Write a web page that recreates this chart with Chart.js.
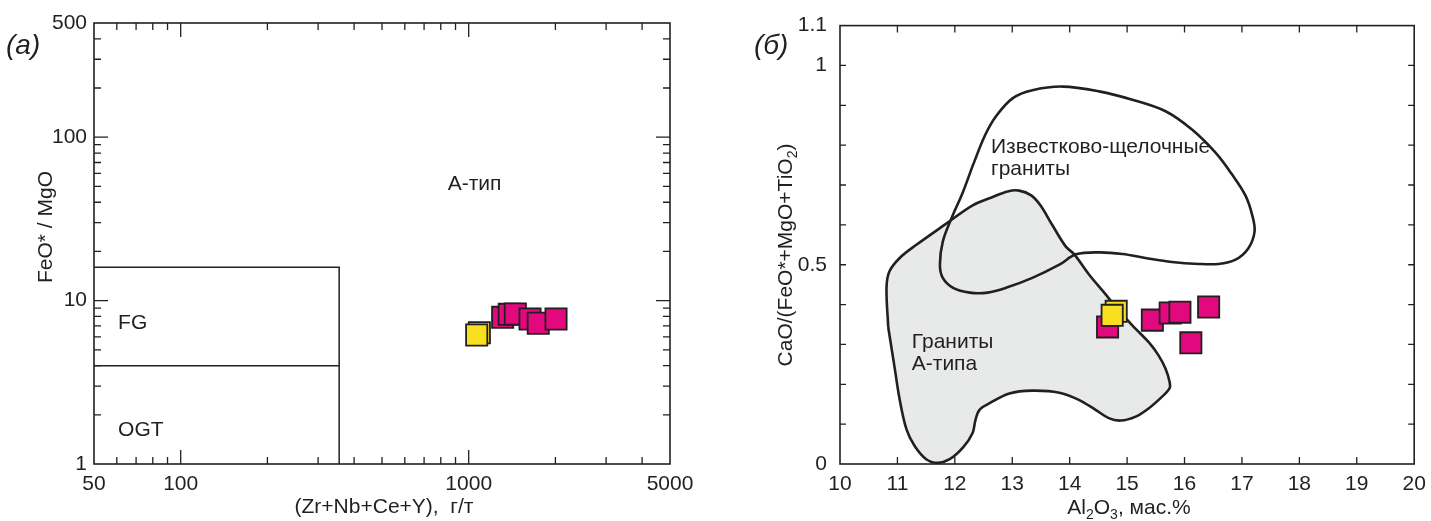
<!DOCTYPE html>
<html>
<head>
<meta charset="utf-8">
<script src="https://cdn.jsdelivr.net/npm/chart.js@4.4.1/dist/chart.umd.min.js"></script>
<style>
  body { margin: 0; background: #fff; width: 1431px; height: 521px; overflow: hidden; position: relative; }
  canvas { position: absolute; top: 0; }
  #left { left: 0; }
  #right { left: 715px; }
</style>
</head>
<body>
<canvas id="left" width="715" height="521"></canvas>
<canvas id="right" width="716" height="521"></canvas>
<script>
// ---------- panel (а): FeO*/MgO vs (Zr+Nb+Ce+Y)
const sumYellowX = [1089, 1066];
const sumYellowY = [6.36, 6.16];
const sumMagentaX = [1312, 1383, 1452, 1633, 1744, 2010];
const sumMagentaY = [7.90, 8.24, 8.28, 7.72, 7.26, 7.72];

const boxOuterX = [50, 355, 355];
const boxOuterY = [16, 16, 1];
const boxSplitX = [50, 355];
const boxSplitY = [4, 4];

const sumTickLabels = [50, 100, 1000, 5000];
const sumTickMajor = [100, 1000];
const sumTickMinor = [60, 70, 80, 90, 200, 300, 400, 500, 600, 700, 800, 900, 2000, 3000, 4000];
const ratioTickLabels = [1, 10, 100, 500];
const ratioTickMajor = [10, 100];
const ratioTickMinor = [2, 3, 4, 5, 6, 7, 8, 9, 20, 30, 40, 50, 60, 70, 80, 90, 200, 300, 400];

// ---------- panel (б): CaO/(FeO*+MgO+TiO2) vs Al2O3
const alYellowX = [14.81, 14.74];
const alYellowY = [0.383, 0.373];
const alMagentaX = [14.66, 15.44, 15.75, 15.92, 16.42, 16.11];
const alMagentaY = [0.344, 0.361, 0.379, 0.381, 0.394, 0.304];

// A-type granite field (grey), starts on its straight left side
const aTypeAl = [10.84, 10.81, 10.86, 11.04, 11.33, 11.85, 12.31, 12.66, 12.92, 13.12, 13.33, 13.49,
  13.70, 13.93, 14.08, 14.34, 14.63, 14.86, 15.15, 15.38, 15.55, 15.67, 15.74, 15.74, 15.61, 15.38, 15.15,
  14.89, 14.68, 14.45, 14.16, 13.82, 13.35, 12.95, 12.60, 12.43, 12.36, 12.31, 12.14, 11.91, 11.70, 11.50,
  11.30, 11.16, 11.04, 10.95, 10.84];
const aTypeCa = [0.343, 0.442, 0.483, 0.517, 0.550, 0.603, 0.649, 0.670, 0.684, 0.686, 0.674, 0.649,
  0.599, 0.546, 0.526, 0.475, 0.425, 0.384, 0.339, 0.305, 0.272, 0.239, 0.206, 0.190, 0.169, 0.140, 0.119,
  0.109, 0.115, 0.136, 0.161, 0.179, 0.184, 0.177, 0.152, 0.136, 0.111, 0.078, 0.041, 0.012, 0.003, 0.012,
  0.045, 0.086, 0.161, 0.243, 0.343];

// calc-alkaline granite field (outline), starts on its straight left side
const calcAl = [12.31, 12.14, 11.94, 11.79, 11.74, 11.79, 11.97, 12.26, 12.57, 12.89, 13.35, 13.82, 14.11,
  14.51, 14.92, 15.32, 15.78, 16.25, 16.59, 16.88, 17.11, 17.22, 17.18, 17.06, 16.82, 16.54, 16.13, 15.67,
  15.09, 14.51, 13.88, 13.35, 13.01, 12.72, 12.52, 12.31];
const calcCa = [0.748, 0.682, 0.616, 0.558, 0.500, 0.467, 0.442, 0.430, 0.430, 0.442, 0.467, 0.500, 0.526,
  0.531, 0.527, 0.517, 0.507, 0.502, 0.502, 0.512, 0.541, 0.583, 0.624, 0.674, 0.728, 0.781, 0.839, 0.885,
  0.914, 0.935, 0.947, 0.938, 0.918, 0.873, 0.823, 0.748];

const alTickLabels = [10, 11, 12, 13, 14, 15, 16, 17, 18, 19, 20];
const alTickMinor = [11, 12, 13, 14, 15, 16, 17, 18, 19];
const caTickLabels = [0, 0.5, 1, 1.1];
const caTickMinor = [0.1, 0.2, 0.3, 0.4, 0.5, 0.6, 0.7, 0.8, 0.9, 1];

const INK = '#231f20';
const MAGENTA = '#e2097f';
const YELLOW = '#f8e021';
const FONT = '"Liberation Sans", Arial, sans-serif';
const SIZE = 21;

const pts = (xs, ys) => xs.map((x, i) => ({ x: x, y: ys[i] }));

function markerSet(xs, ys, color) {
  return {
    data: pts(xs, ys),
    showLine: false,
    pointStyle: 'rect',
    pointRadius: 15,
    pointHoverRadius: 15,
    backgroundColor: color,
    borderColor: INK,
    borderWidth: 1.8
  };
}

function lineSet(xs, ys, extra) {
  return Object.assign({
    type: 'line',
    data: pts(xs, ys),
    borderColor: INK,
    borderWidth: 1.5,
    pointRadius: 0,
    fill: false,
    tension: 0
  }, extra || {});
}

// text with subscripts, centred on (x, y), optionally rotated
function richText(ctx, parts, x, y, rot) {
  ctx.save();
  ctx.translate(x, y);
  ctx.rotate(rot || 0);
  ctx.fillStyle = INK;
  ctx.textBaseline = 'alphabetic';
  ctx.textAlign = 'left';
  const f = p => (p.sub ? '14px ' : SIZE + 'px ') + FONT;
  let w = 0;
  parts.forEach(p => { ctx.font = f(p); w += ctx.measureText(p.t).width; });
  let cx = -w / 2;
  parts.forEach(p => {
    ctx.font = f(p);
    ctx.fillText(p.t, cx, p.sub ? 5 : 0);
    cx += ctx.measureText(p.t).width;
  });
  ctx.restore();
}

function labelAt(chart, text, xv, yv) {
  const { ctx, scales } = chart;
  ctx.save();
  ctx.font = SIZE + 'px ' + FONT;
  ctx.fillStyle = INK;
  ctx.textAlign = 'left';
  ctx.textBaseline = 'alphabetic';
  ctx.fillText(text, scales.x.getPixelForValue(xv), scales.y.getPixelForValue(yv));
  ctx.restore();
}

// frame plus inward ticks on all four sides
function frameTicks(chart, xTicks, yTicks) {
  const { ctx, chartArea: a, scales: { x, y } } = chart;
  ctx.save();
  ctx.strokeStyle = INK;
  ctx.lineWidth = 1.3;
  ctx.beginPath();
  xTicks.forEach(([v, len]) => {
    const px = x.getPixelForValue(v);
    ctx.moveTo(px, a.bottom); ctx.lineTo(px, a.bottom - len);
    ctx.moveTo(px, a.top); ctx.lineTo(px, a.top + len);
  });
  yTicks.forEach(([v, len]) => {
    const py = y.getPixelForValue(v);
    ctx.moveTo(a.left, py); ctx.lineTo(a.left + len, py);
    ctx.moveTo(a.right, py); ctx.lineTo(a.right - len, py);
  });
  ctx.stroke();
  ctx.lineWidth = 1.6;
  ctx.strokeRect(a.left, a.top, a.right - a.left, a.bottom - a.top);
  ctx.restore();
}

function panelLabel(ctx, text, x) {
  ctx.save();
  ctx.font = 'italic 28px ' + FONT;
  ctx.fillStyle = INK;
  ctx.fillText(text, x, 54);
  ctx.restore();
}

const axisFont = () => ({ family: FONT, size: SIZE });
// fixed box sizes so the plot areas land where the reference has them
const fixX = s => { s.height = 57; s.paddingLeft = 0; s.paddingRight = 0; };

// ---------- chart (а)
new Chart(document.getElementById('left'), {
  type: 'scatter',
  data: {
    datasets: [
      markerSet(sumYellowX, sumYellowY, YELLOW),
      markerSet(sumMagentaX, sumMagentaY, MAGENTA),
      lineSet(boxOuterX, boxOuterY),
      lineSet(boxSplitX, boxSplitY)
    ]
  },
  options: {
    responsive: false,
    animation: false,
    layout: { padding: { left: 0, right: 45, top: 23, bottom: 0 } },
    plugins: { legend: { display: false }, tooltip: { enabled: false } },
    scales: {
      x: {
        type: 'logarithmic', min: 50, max: 5000, bounds: 'data',
        grid: { display: false, drawTicks: false },
        border: { display: false },
        afterBuildTicks: s => { s.ticks = sumTickLabels.map(v => ({ value: v })); },
        afterFit: fixX,
        ticks: { color: INK, font: axisFont(), padding: 8, autoSkip: false, maxRotation: 0, callback: v => String(v) }
      },
      y: {
        type: 'logarithmic', min: 1, max: 500, bounds: 'data',
        grid: { display: false, drawTicks: false },
        border: { display: false },
        afterBuildTicks: s => { s.ticks = ratioTickLabels.map(v => ({ value: v })); },
        afterFit: s => { s.width = 94; },
        ticks: { color: INK, font: axisFont(), padding: 7, autoSkip: false, callback: v => String(v) }
      }
    }
  },
  plugins: [{
    id: 'decorA',
    afterDatasetsDraw(chart) {
      labelAt(chart, 'А-тип', 845, 47.5);
      labelAt(chart, 'FG', 60.6, 6.7);
      labelAt(chart, 'OGT', 60.6, 1.48);
    },
    afterDraw(chart) {
      const xt = sumTickMajor.map(v => [v, 14]).concat(sumTickMinor.map(v => [v, 7]));
      const yt = ratioTickMajor.map(v => [v, 14]).concat(ratioTickMinor.map(v => [v, 7]));
      frameTicks(chart, xt, yt);
      const { ctx, chartArea: a } = chart;
      richText(ctx, [{ t: 'FeO* / MgO' }], a.left - 42, 227, -Math.PI / 2);
      richText(ctx, [{ t: '(Zr+Nb+Ce+Y),  г/т' }], 384, 513, 0);
      panelLabel(ctx, '(а)', 6);
    }
  }]
});

// ---------- chart (б)
new Chart(document.getElementById('right'), {
  type: 'scatter',
  data: {
    datasets: [
      markerSet(alYellowX, alYellowY, YELLOW),
      markerSet(alMagentaX, alMagentaY, MAGENTA),
      lineSet(calcAl, calcCa, { borderWidth: 2.6, tension: 0.35 }),
      lineSet(aTypeAl, aTypeCa, { borderWidth: 2.6, tension: 0.35, fill: 'shape', backgroundColor: '#e8e9e9' })
    ]
  },
  options: {
    responsive: false,
    animation: false,
    layout: { padding: { left: 0, right: 14, top: 22, bottom: 0 } },
    plugins: { legend: { display: false }, tooltip: { enabled: false } },
    scales: {
      x: {
        type: 'linear', min: 10, max: 20, bounds: 'data',
        grid: { display: false, drawTicks: false },
        border: { display: false },
        afterBuildTicks: s => { s.ticks = alTickLabels.map(v => ({ value: v })); },
        afterFit: fixX,
        ticks: { color: INK, font: axisFont(), padding: 8, autoSkip: false, maxRotation: 0, callback: v => String(v) }
      },
      y: {
        type: 'linear', min: 0, max: 1.1, bounds: 'data',
        grid: { display: false, drawTicks: false },
        border: { display: false },
        afterBuildTicks: s => { s.ticks = caTickLabels.map(v => ({ value: v })); },
        afterFit: s => { s.width = 125; },
        ticks: { color: INK, font: axisFont(), padding: 13, autoSkip: false, callback: v => String(v) }
      }
    }
  },
  plugins: [{
    id: 'decorB',
    afterDatasetsDraw(chart) {
      labelAt(chart, 'Известково-щелочные', 12.63, 0.781);
      labelAt(chart, 'граниты', 12.63, 0.724);
      labelAt(chart, 'Граниты', 11.25, 0.291);
      labelAt(chart, 'А-типа', 11.25, 0.236);
    },
    afterDraw(chart) {
      const xt = alTickMinor.map(v => [v, 7]);
      const yt = caTickMinor.map(v => [v, 6]);
      frameTicks(chart, xt, yt);
      const { ctx, chartArea: a } = chart;
      richText(ctx, [{ t: 'CaO/(FeO*+MgO+TiO' }, { t: '2', sub: true }, { t: ')' }], a.left - 48, 255, -Math.PI / 2);
      richText(ctx, [{ t: 'Al' }, { t: '2', sub: true }, { t: 'O' }, { t: '3', sub: true }, { t: ', мас.%' }], 1129 - 715, 514, 0);
      panelLabel(ctx, '(б)', 754 - 715);
    }
  }]
});
</script>
</body>
</html>
